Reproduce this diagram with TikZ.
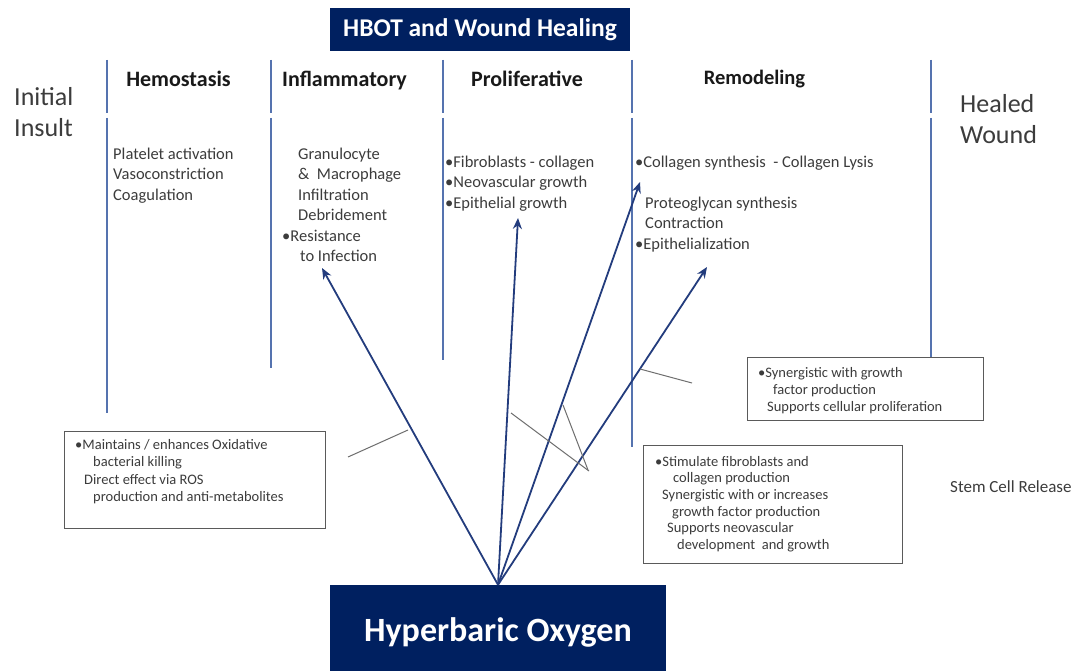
\documentclass[tikz,border=0pt]{standalone}
\usepackage{fontspec}
\setmainfont{Carlito}
\usetikzlibrary{arrows.meta}
\definecolor{navy}{RGB}{0,32,96}
\definecolor{arrowblue}{RGB}{35,60,125}
\definecolor{phaseline}{RGB}{85,115,175}
\definecolor{calloutgray}{RGB}{110,110,110}
\definecolor{boxgray}{RGB}{90,90,90}
\definecolor{bodygray}{RGB}{60,60,60}
\definecolor{headblack}{RGB}{25,25,25}
\begin{document}
\begin{tikzpicture}[x=1pt,y=-1pt,
  darkbox/.style={fill=navy, text=white, inner sep=0pt},
  phase/.style={draw=phaseline, line width=1.2pt},
  head/.style={anchor=base, inner sep=0pt, text=headblack, font=\bfseries\fontsize{22}{26}\selectfont},
  body/.style={anchor=north west, inner sep=0pt, align=left, text=bodygray, font=\fontsize{16.5}{20.5}\selectfont},
  small/.style={anchor=north west, inner sep=0pt, align=left, text=bodygray, font=\fontsize{14.5}{17}\selectfont},
  big/.style={anchor=north west, inner sep=0pt, align=left, text=bodygray, font=\fontsize{26}{31}\selectfont},
  effect/.style={draw=arrowblue, line width=1.8pt, -{Stealth[length=11pt,width=9pt]}},
  callout/.style={draw=calloutgray, line width=1pt},
  notebox/.style={draw=boxgray, line width=1pt, inner sep=0pt, anchor=north west}]
\useasboundingbox (0,0) rectangle (1087,671);
\fill[white] (0,0) rectangle (1087,671);

% title
\node[darkbox, minimum width=300pt, minimum height=43pt, font=\bfseries\fontsize{25.5}{30}\selectfont] (title) at (480,29.5) {HBOT and Wound Healing};

% phase separator lines
\foreach \x/\e [count=\i] in {107/413, 271/368, 443/360, 632/447, 931/357} {
  \coordinate (p\i a) at (\x,60);
  \coordinate (p\i b) at (\x,113);
  \coordinate (p\i c) at (\x,118);
  \coordinate (p\i d) at (\x,\e);
  \draw[phase] (p\i a) -- (p\i b);
  \draw[phase] (p\i c) -- (p\i d);
}

% headers
\node[head] (hem) at (178.5,87) {Hemostasis};
\node[head] (inf) at (344.5,87) {Inflammatory};
\node[head] (pro) at (527,87) {Proliferative};
\node[head, font=\bfseries\fontsize{20.5}{24}\selectfont] (rem) at (754.5,85) {Remodeling};

\node[big] (initial) at (14,83.3) {\strut Initial\\Insult};
\node[big] (healed) at (960,90.3) {\strut Healed\\Wound};

% phase contents
\node[body] (hemtxt) at (113,144.6) {\strut Platelet activation\\Vasoconstriction\\Coagulation};
\node[body] (inftxt) at (282,144.6) {\strut\hspace*{16pt}Granulocyte\\\hspace*{16pt}\&\ \ Macrophage\\\hspace*{16pt}Infiltration\\\hspace*{16pt}Debridement\\•Resistance\\\hspace*{18pt}to Infection};
\node[body] (protxt) at (445,152.6) {\strut •Fibroblasts - collagen\\•Neovascular growth\\•Epithelial growth};
\node[body] (remtxt) at (635,152.6) {\strut •Collagen synthesis\ \ - Collagen Lysis\\\strut\\\hspace*{10pt}Proteoglycan synthesis\\\hspace*{10pt}Contraction\\•Epithelialization};

% note boxes
\node[notebox, minimum width=261pt, minimum height=97pt] (boxL) at (64,431) {};
\node[small, font=\fontsize{14.5}{17.3}\selectfont] (boxLtxt) at (75,437.1) {\strut •Maintains / enhances Oxidative\\\hspace*{18pt}bacterial killing\\\hspace*{9pt}Direct effect via ROS\\\hspace*{18pt}production and anti-metabolites};

\node[notebox, minimum width=236pt, minimum height=63pt] (boxS) at (747,357) {};
\node[small] (boxStxt) at (758,365.1) {\strut •Synergistic with growth\\\hspace*{15pt}factor production\\\hspace*{9pt}Supports cellular proliferation};

\node[notebox, minimum width=259pt, minimum height=118pt] (boxF) at (643,445) {};
\node[small, font=\fontsize{14.5}{16.6}\selectfont] (boxFtxt) at (655,454.4) {\strut •Stimulate fibroblasts and\\\hspace*{18pt}collagen production\\\hspace*{7pt}Synergistic with or increases\\\hspace*{17pt}growth factor production\\\hspace*{12pt}Supports neovascular\\\hspace*{22pt}development\ \ and growth};

\node[anchor=base west, inner sep=0pt, text=bodygray, font=\fontsize{17}{20}\selectfont] (stem) at (950,492) {Stem Cell Release};

% hyperbaric oxygen
\node[darkbox, minimum width=336pt, minimum height=86pt] (hbo) at (498,628) {};
\node[inner sep=0pt, text=white, font=\bfseries\fontsize{34}{40}\selectfont, anchor=base] (hbotxt) at (498,641) {Hyperbaric Oxygen};

% effect arrows
\coordinate (t1) at (322,268);
\coordinate (t2) at (518,218);
\coordinate (t3) at (640,182);
\coordinate (t4) at (707,267);
\draw[effect] (hbo.north) -- (t1);
\draw[effect] (hbo.north) -- (t2);
\draw[effect] (hbo.north) -- (t3);
\draw[effect] (hbo.north) -- (t4);

% callout lines
\coordinate (c1a) at (348,457); \coordinate (c1b) at (408,430);
\coordinate (c2a) at (511,413); \coordinate (c2b) at (589,471);
\coordinate (c3a) at (563,405); \coordinate (c3b) at (588,470);
\coordinate (c4a) at (640,369); \coordinate (c4b) at (692,383);
\draw[callout] (c1a) -- (c1b);
\draw[callout] (c2a) -- (c2b);
\draw[callout] (c3a) -- (c3b);
\draw[callout] (c4a) -- (c4b);
\end{tikzpicture}
\end{document}
